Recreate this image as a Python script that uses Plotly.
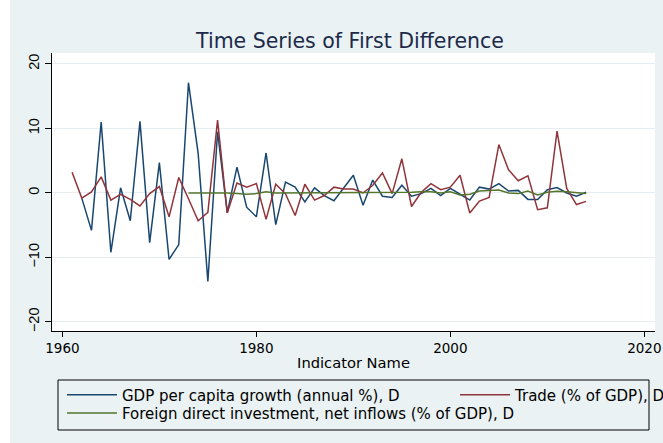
import plotly.graph_objects as go

years_gdp = list(range(1962, 2015))
gdp_d = [-0.8, -5.8, 11.0, -9.2, 0.8, -4.3, 11.1, -7.7, 4.7, -10.3,
         -8.0, 17.1, 6.1, -13.7, 9.5, -3.1, 4.0, -2.2, -3.7, 6.2,
         -4.9, 1.7, 0.9, -1.4, 0.8, -0.4, -1.2, 0.8, 2.75, -1.9,
         2.0, -0.5, -0.7, 1.2, -0.5, -0.1, 0.7, -0.4, 0.7, -0.2,
         -1.1, 0.9, 0.6, 1.45, 0.3, 0.4, -1.0, -1.0, 0.5, 0.85,
         0.0, -0.5, 0.1]

years_trade = list(range(1961, 2015))
trade_d = [3.2, -0.8, 0.15, 2.5, -1.1, -0.2, -1.0, -2.0, -0.1, 1.0,
           -3.7, 2.4, -0.9, -4.3, -3.0, 11.3, -3.1, 1.55, 0.9, 1.45,
           -4.1, 1.35, -0.1, -3.5, 1.35, -1.1, -0.4, 0.9, 0.6, 0.6,
           0.0, 1.2, 3.1, -0.1, 5.3, -2.1, 0.1, 1.45, 0.5, 0.9,
           2.75, -3.1, -1.25, -0.7, 7.5, 3.6, 1.9, 2.65, -2.6, -2.3,
           9.6, 0.7, -1.8, -1.3]

years_fdi = list(range(1973, 2015))
fdi_d = [0.0, 0.0, 0.0, 0.1, 0.0, -0.1, -0.2, -0.1, 0.2, 0.0,
         0.0, 0.0, 0.0, 0.0, 0.0, 0.0, 0.0, 0.0, 0.0, 0.0,
         0.0, 0.0, 0.0, 0.1, 0.2, 0.2, 0.0, 0.2, -0.3, -0.2,
         0.3, 0.4, 0.45, 0.0, -0.1, 0.3, -0.3, 0.1, 0.25, 0.2,
         0.0, -0.1]

x_ticks = [1960, 1980, 2000, 2020]
y_ticks = [-20, -10, 0, 10, 20]

BG = "#EAF2F3"
WIDE = "DejaVu Sans, sans-serif"
ARIAL = "Liberation Sans, Arial, sans-serif"

fig = go.Figure()
fig.add_trace(go.Scatter(x=years_gdp, y=gdp_d, mode="lines",
                         name="GDP per capita growth (annual %), D",
                         line=dict(color="#1A476F", width=1.5), legend="legend"))
fig.add_trace(go.Scatter(x=years_trade, y=trade_d, mode="lines",
                         name="Trade (% of GDP), D",
                         line=dict(color="#90353B", width=1.5), legend="legend2"))
fig.add_trace(go.Scatter(x=years_fdi, y=fdi_d, mode="lines",
                         name="Foreign direct investment, net inflows (% of GDP), D",
                         line=dict(color="#55752F", width=1.5), legend="legend3"))

def leg(xpx, ypx):
    return dict(orientation="v", x=(xpx - 52) / 603, y=-(ypx - 331) / 278,
                xanchor="left", yanchor="middle", bgcolor="rgba(0,0,0,0)",
                borderwidth=0, itemwidth=50, font=dict(size=15, family=WIDE, color="black"))

fig.update_layout(
    width=663, height=443,
    margin=dict(l=52, r=8, t=53, b=112, autoexpand=False),
    paper_bgcolor=BG, plot_bgcolor="white",
    font=dict(family=WIDE, color="black", size=14),
    title=dict(text="Time Series of First Difference", x=(350 - 52) / 603, xref="paper",
               xanchor="center", y=1 - 40.7 / 443, yref="container",
               yanchor="middle", font=dict(size=20.5, color="#1C2A4A", family=WIDE)),
    showlegend=True,
    legend=leg(62, 395),
    legend2=leg(455, 395),
    legend3=leg(62, 413.3),
    xaxis=dict(range=[1958.93, 2021.1], tickvals=x_ticks, ticks="outside", ticklen=5,
               tickcolor="black", showline=True, linecolor="black", linewidth=1,
               showgrid=False, zeroline=False, automargin=False,
               tickfont=dict(size=13.5, family=WIDE),
               title=dict(text="Indicator Name", font=dict(size=14.7, family=WIDE), standoff=2)),
    yaxis=dict(range=[-21.4, 21.7], tickvals=y_ticks, ticks="outside", ticklen=6,
               tickcolor="black", showline=True, linecolor="black", linewidth=1,
               showgrid=True, gridcolor="#E6EEF1", gridwidth=1, zeroline=False,
               automargin=False, tickangle=-90, tickfont=dict(size=14.5, family=ARIAL)),
    shapes=[
        dict(type="rect", xref="paper", yref="paper", x0=(58 - 52) / 603, x1=(649 - 52) / 603,
             y0=-(430 - 331) / 278, y1=-(380 - 331) / 278, line=dict(color="black", width=1),
             fillcolor="rgba(0,0,0,0)"),
        dict(type="rect", xref="paper", yref="paper", x0=-0.2, x1=(10 - 52) / 603,
             y0=-0.5, y1=1.3, line=dict(width=0), fillcolor="white", layer="below"),
    ],
)

fig.write_html("out.html",
               config={"displayModeBar": False},
               post_script="document.body.style.margin='0';document.body.style.overflow='hidden';")
